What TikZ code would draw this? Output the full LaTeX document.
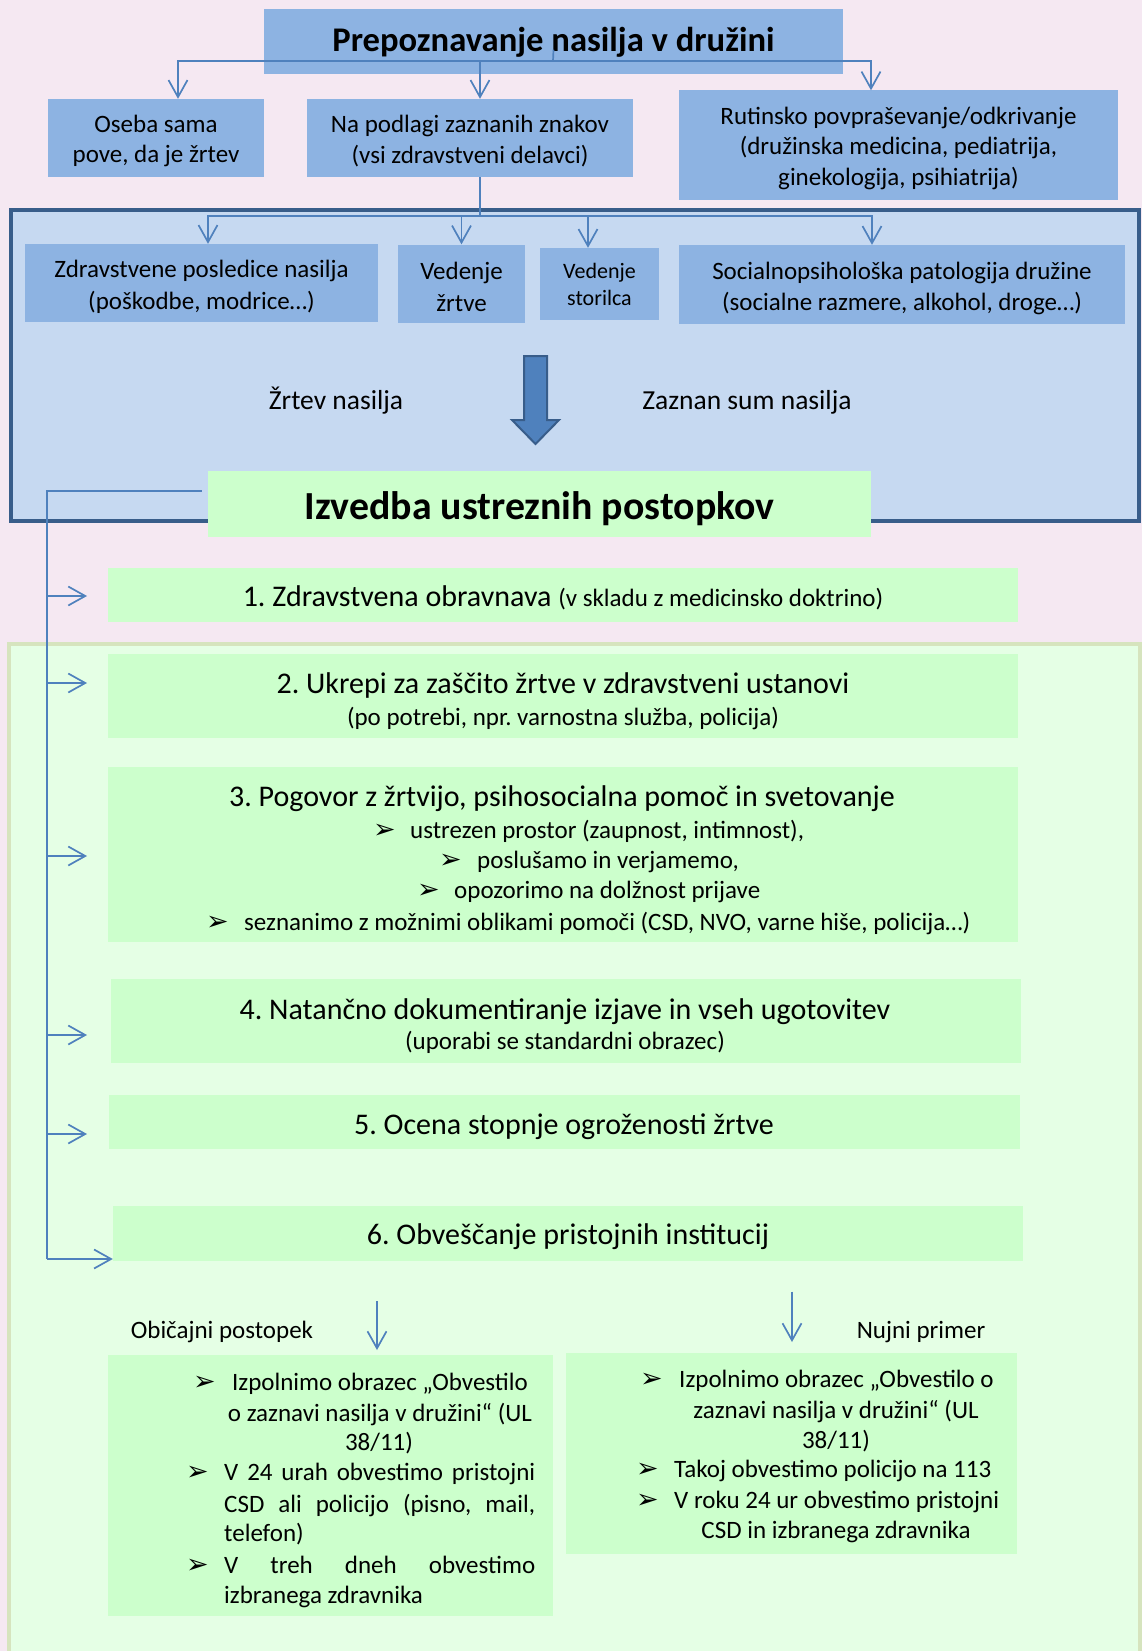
\documentclass[tikz,border=0pt]{standalone}
\usepackage{fontspec}
\setmainfont{Carlito}
\newfontfamily\dejavu{DejaVu Sans}
\usetikzlibrary{arrows.meta}
\frenchspacing
\definecolor{pinkbg}{RGB}{245,232,242}
\definecolor{greenpanel}{RGB}{229,255,229}
\definecolor{greenborder}{RGB}{214,228,190}
\definecolor{bluepanel}{RGB}{198,217,241}
\definecolor{panelborder}{RGB}{56,93,138}
\definecolor{boxblue}{RGB}{141,179,226}
\definecolor{boxgreen}{RGB}{204,255,204}
\definecolor{lineblue}{RGB}{79,129,189}
\newcommand\fsreg{\fontsize{25}{30.5}\selectfont}
\newcommand\fssm{\fontsize{22}{27}\selectfont}
\newcommand\fslab{\fontsize{27.5}{32}\selectfont}
\newcommand\fsbig{\fontsize{30}{34}\selectfont}
\newcommand\fstitle{\fontsize{34.6}{40}\selectfont\bfseries}
\newcommand\fsizv{\fontsize{39.8}{46}\selectfont\bfseries}
\newcommand\blt{{\dejavu\fontsize{27}{27}\selectfont ➢}}
\tikzset{
  bluebox/.style={fill=boxblue, draw=none, inner sep=0pt},
  greenbox/.style={fill=boxgreen, draw=none, inner sep=0pt},
  boxtxt/.style={inner sep=0pt, align=center, font=\fsreg},
  txt/.style={inner sep=0pt, font=\fsreg, text height=20pt, text depth=4pt},
  bigtxt/.style={inner sep=0pt, font=\fsbig, text height=22pt, text depth=6pt},
  conn/.style={draw=lineblue, line width=1.7pt},
  arr/.style={-{Straight Barb[length=17pt,width=19pt]}},
}
\begin{document}
\frenchspacing
\begin{tikzpicture}[x=1pt,y=-1pt]
\useasboundingbox (0,0) rectangle (1142,1651);
\clip (0,0) rectangle (1142,1651);
\fill[pinkbg] (0,0) rectangle (1142,1651);
\draw[fill=greenpanel, draw=greenborder, line width=4pt] (9,644) rectangle (1140,1690);
\draw[fill=bluepanel, draw=panelborder, line width=4pt] (11,210) rectangle (1139,521);

% top level
\node[bluebox, minimum width=579pt, minimum height=64.5pt] (title) at (553.5,41.75) {};
\node[boxtxt, font=\fstitle] (titlet) at ([yshift=-1pt]title.center) {Prepoznavanje nasilja v družini};
\node[bluebox, minimum width=216pt, minimum height=78pt] (oseba) at (156,138) {};
\node[boxtxt] (osebat) at ([yshift=-3pt]oseba.center) {Oseba sama\\pove, da je žrtev};
\node[bluebox, minimum width=326pt, minimum height=78pt] (napodlagi) at (470,138) {};
\node[boxtxt] (napodlagit) at ([yshift=-3pt]napodlagi.center) {Na podlagi zaznanih znakov\\(vsi zdravstveni delavci)};
\node[bluebox, minimum width=439pt, minimum height=109.5pt] (rutinsko) at (898.5,145.25) {};
\node[boxtxt] (rutinskot) at ([yshift=-3pt]rutinsko.center) {Rutinsko povpraševanje/odkrivanje\\(družinska medicina, pediatrija,\\ginekologija, psihiatrija)};

% second level
\node[bluebox, minimum width=353pt, minimum height=78pt] (zdrav) at (201.5,283) {};
\node[boxtxt, font=\fontsize{25}{31.5}\selectfont] (zdravt) at ([yshift=-4pt]zdrav.center) {Zdravstvene posledice nasilja\\(poškodbe, modrice…)};
\node[bluebox, minimum width=127pt, minimum height=78.5pt] (vzrtve) at (461.5,283.75) {};
\node[boxtxt, font=\fontsize{25}{31.5}\selectfont] (vzrtvet) at ([yshift=-3pt]vzrtve.center) {Vedenje\\žrtve};
\node[bluebox, minimum width=119pt, minimum height=72pt] (vstor) at (599.5,284) {};
\node[boxtxt, font=\fssm] (vstort) at (vstor.center) {Vedenje\\storilca};
\node[bluebox, minimum width=446pt, minimum height=79pt] (social) at (902,284.5) {};
\node[boxtxt, font=\fontsize{25}{31.5}\selectfont] (socialt) at ([yshift=-4pt]social.center) {Socialnopsihološka patologija družine\\(socialne razmere, alkohol, droge…)};

\node[txt, font=\fslab] (zrtev) at (336,401) {Žrtev nasilja};
\node[txt, font=\fslab] (sum) at (747,401) {Zaznan sum nasilja};
\filldraw[fill=lineblue, draw=panelborder, line width=2pt] (524,356) -- (547,356) -- (547,420) -- (559,420) -- (535.5,444) -- (512,420) -- (524,420) -- cycle;

\node[greenbox, minimum width=663pt, minimum height=66pt] (izvedba) at (539.5,504) {};
\node[boxtxt, font=\fsizv] (izvedbat) at ([yshift=-5pt]izvedba.center) {Izvedba ustreznih postopkov};

% steps
\node[greenbox, minimum width=910pt, minimum height=54pt] (box1) at (563,595) {};
\node[bigtxt] (b1) at (563,598) {1. Zdravstvena obravnava {\fsreg (v skladu z medicinsko doktrino)}};
\node[greenbox, minimum width=910pt, minimum height=84pt] (box2) at (563,696) {};
\node[bigtxt] (b2a) at (563,685) {2. Ukrepi za zaščito žrtve v zdravstveni ustanovi};
\node[txt] (b2b) at (563,717) {(po potrebi, npr. varnostna služba, policija)};

\node[greenbox, minimum width=910pt, minimum height=175pt] (box3) at (563,854.5) {};
\node[bigtxt] (b3a) at (562,798) {3. Pogovor z žrtvijo, psihosocialna pomoč in svetovanje};
\node[txt, anchor=west] (b3b1) at (373,830) {\blt};
\node[txt, anchor=west] (b3b) at (410,830) {ustrezen prostor (zaupnost, intimnost),};
\node[txt, anchor=west] (b3c1) at (439,860) {\blt};
\node[txt, anchor=west] (b3c) at (477,860) {poslušamo in verjamemo,};
\node[txt, anchor=west] (b3d1) at (417,890) {\blt};
\node[txt, anchor=west] (b3d) at (454,890) {opozorimo na dolžnost prijave};
\node[txt, anchor=west] (b3e1) at (206,922) {\blt};
\node[txt, anchor=west] (b3e) at (244,922) {seznanimo z možnimi oblikami pomoči (CSD, NVO, varne hiše, policija…)};

\node[greenbox, minimum width=910pt, minimum height=84pt] (box4) at (566,1021) {};
\node[bigtxt] (b4a) at (565,1011) {4. Natančno dokumentiranje izjave in vseh ugotovitev};
\node[txt] (b4b) at (565,1041) {(uporabi se standardni obrazec)};

\node[greenbox, minimum width=911pt, minimum height=54pt] (box5) at (564.5,1122) {};
\node[bigtxt] (b5) at (564,1126) {5. Ocena stopnje ogroženosti žrtve};
\node[greenbox, minimum width=910pt, minimum height=55pt] (box6) at (568,1233.5) {};
\node[bigtxt] (b6) at (568,1236) {6. Obveščanje pristojnih institucij};

% bottom
\node[txt] (obic) at (222,1330) {Običajni postopek};
\node[txt] (nujni) at (921,1330) {Nujni primer};

\node[greenbox, minimum width=445pt, minimum height=261pt] (boxL) at (330.5,1485.5) {};
\node[txt, anchor=west] (l1a) at (193,1382) {\blt};
\node[txt] (l1) at (380,1382) {Izpolnimo obrazec „Obvestilo};
\node[txt] (l2) at (380,1413) {o zaznavi nasilja v družini“ (UL};
\node[txt] (l3) at (379,1442) {38/11)};
\node[txt, anchor=west] (l4a) at (186,1472) {\blt};
\node[txt, anchor=west] (l4) at (224,1472) {\makebox[311pt][s]{V 24 urah obvestimo pristojni}};
\node[txt, anchor=west] (l5) at (224,1504) {\makebox[311pt][s]{CSD ali policijo (pisno, mail,}};
\node[txt, anchor=west] (l6) at (224,1533) {telefon)};
\node[txt, anchor=west] (l7a) at (186,1565) {\blt};
\node[txt, anchor=west] (l7) at (224,1565) {\makebox[311pt][s]{V treh dneh obvestimo}};
\node[txt, anchor=west] (l8) at (224,1595) {izbranega zdravnika};

\node[greenbox, minimum width=451pt, minimum height=201pt] (boxR) at (791.5,1453.5) {};
\node[txt, anchor=west] (r1a) at (640,1379) {\blt};
\node[txt, anchor=west] (r1) at (679,1379) {Izpolnimo obrazec „Obvestilo o};
\node[txt] (r2) at (836,1410) {zaznavi nasilja v družini“ (UL};
\node[txt] (r3) at (836,1440) {38/11)};
\node[txt, anchor=west] (r4a) at (636,1469) {\blt};
\node[txt, anchor=west] (r4) at (674,1469) {Takoj obvestimo policijo na 113};
\node[txt, anchor=west] (r5a) at (636,1500) {\blt};
\node[txt, anchor=west] (r5) at (674,1500) {V roku 24 ur obvestimo pristojni};
\node[txt] (r6) at (836,1530) {CSD in izbranega zdravnika};

% connectors
\coordinate (hub1) at (553,61);
\draw[conn] ([yshift=-8pt]title.center) -- (hub1);
\draw[conn,arr] (hub1) -| ([xshift=22pt]oseba.north);
\draw[conn,arr] (hub1) -| ([xshift=10pt]napodlagi.north);
\draw[conn,arr] (hub1) -| ([xshift=-27.5pt]rutinsko.north);

\coordinate (hub2) at (480,216);
\draw[conn] ([xshift=10pt]napodlagi.south) -- (hub2);
\draw[conn,arr] (hub2) -| ([xshift=6.5pt]zdrav.north);
\draw[conn,arr] (hub2) -| (vzrtve.north);
\draw[conn,arr] (hub2) -| ([xshift=-11.5pt]vstor.north);
\draw[conn,arr] (hub2) -| ([xshift=-30pt]social.north);

\coordinate (sp0) at (47,491);
\coordinate (sp6) at (47,1259);
\draw[conn] ([xshift=-6pt]izvedba.west |- sp0) -- (sp0) -- (sp6);
\draw[conn,arr] (sp6) -- (box6.west |- sp6);
\coordinate (s1) at (47,596);
\coordinate (s2) at (47,683);
\coordinate (s3) at (47,856);
\coordinate (s4) at (47,1035);
\coordinate (s5) at (47,1134);
\foreach \s in {s1,s2,s3,s4,s5}{\draw[conn,arr] (\s) -- ++(40,0);}

\coordinate (d1) at (377,1301);
\coordinate (d2) at (792,1291.5);
\draw[conn,arr] (d1) -- ++(0,49);
\draw[conn,arr] (d2) -- ++(0,50.5);
\end{tikzpicture}
\end{document}
